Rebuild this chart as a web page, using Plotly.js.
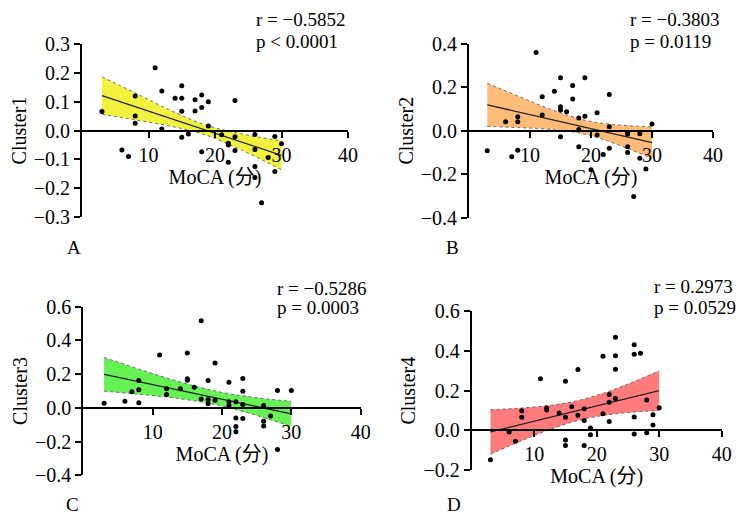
<!DOCTYPE html>
<html>
<head>
<meta charset="utf-8">
<script src="https://cdn.plot.ly/plotly-3.0.1.min.js"></script>
<style>html,body{margin:0;padding:0;background:#fff}#chart{width:741px;height:516px}</style>
</head>
<body>
<div id="chart"></div>
<script>
// ---------- Data ----------
const xTicks = [10, 20, 30, 40];

// Panel A : Cluster1
const aX = [3,6,7,8,8,8,11,12,12,14,15,15,15,15,16,17,17,18,18,18,19,19,21,22,22,22,23,23,23,26,26,26,26,27,28,29,29,30];
const aY = [0.066,-0.068,-0.09,0.12,0.05,0.025,0.218,0.137,0.005,0.112,0.155,0.112,0.067,-0.023,-0.012,0.107,0.068,0.123,0.08,-0.074,0.10,0.016,-0.015,-0.044,-0.05,-0.11,0.104,-0.022,-0.069,-0.014,-0.066,-0.125,-0.163,-0.251,-0.094,-0.021,-0.142,-0.046];
const aFitX = [3, 8, 13, 18.5, 24, 30];
const aFitY = [0.121, 0.0834, 0.0449, 0.0025, -0.0399, -0.086];
const aUp   = [0.186, 0.130, 0.073, 0.0195, -0.0116, -0.036];
const aLo   = [0.056, 0.037, 0.0166, -0.0145, -0.068, -0.136];
const aYTicks = [-0.3, -0.2, -0.1, 0, 0.1, 0.2, 0.3];

// Panel B : Cluster2
const bX = [3,6,7,8,8,8,11,12,12,14,15,15,15,15,16,17,17,18,18,18,19,19,20,21,21,22,23,23,23,26,26,26,26,27,28,28,29,30];
const bY = [-0.092,0.041,-0.12,-0.09,0.064,0.041,0.359,0.156,0.072,0.181,0.244,0.11,0.095,-0.028,0.087,0.208,0.146,0.058,0.006,-0.074,0.244,0.067,-0.18,0.083,-0.02,-0.11,0.166,0.018,-0.081,-0.008,-0.015,-0.074,-0.1,-0.302,-0.014,-0.127,-0.176,0.031];
const bFitX = [3, 8, 13, 19, 24, 30];
const bFitY = [0.119, 0.087, 0.0547, 0.016, -0.0162, -0.055];
const bUp   = [0.218, 0.1598, 0.1025, 0.048, 0.0275, 0.0178];
const bLo   = [0.020, 0.0142, 0.0069, -0.016, -0.0599, -0.1278];
const bYTicks = [-0.4, -0.2, 0, 0.2, 0.4];

// Panel C : Cluster3
const cX = [3,6,7,8,8,8,11,12,12,14,15,15,15,16,17,17,18,18,18,19,19,21,21,21,22,22,22,22,23,23,23,23,26,26,26,27,28,28,30];
const cY = [0.028,0.039,0.095,0.162,0.108,0.03,0.314,0.114,0.079,0.114,0.325,0.172,0.164,0.122,0.517,0.053,0.162,0.049,0.024,0.266,0.045,0.152,0.036,0.014,0.036,-0.06,-0.11,-0.142,0.174,0.099,0.02,-0.063,0.014,-0.079,-0.108,-0.049,0.103,-0.247,0.103];
const cFitX = [3, 8, 13, 19, 24, 30];
const cFitY = [0.199, 0.1555, 0.112, 0.0598, 0.0163, -0.0359];
const cUp   = [0.299, 0.2301, 0.1647, 0.0998, 0.0655, 0.0387];
const cLo   = [0.099, 0.0809, 0.0593, 0.0198, -0.0329, -0.1105];
const cYTicks = [-0.4, -0.2, 0, 0.2, 0.4, 0.6];

// Panel D : Cluster4
const dX = [3,6,7,8,8,11,12,12,14,15,15,15,15,16,17,17,18,18,18,19,19,21,21,22,22,22,23,23,23,23,26,26,26,26,27,28,28,29,29,30];
const dY = [-0.148,-0.008,-0.055,0.099,0.066,0.26,0.113,0.103,0.087,0.247,0.066,-0.049,-0.076,0.119,0.306,0.076,0.109,0.05,-0.076,0.012,-0.022,0.373,0.084,0.18,0.141,0.044,0.469,0.376,0.308,0.161,0.432,0.383,0.067,-0.018,0.388,0.153,-0.012,0.079,0.027,0.114];
const dFitX = [3, 8, 13, 17.5, 23, 30];
const dFitY = [-0.0084, 0.0302, 0.0688, 0.1035, 0.146, 0.20];
const dUp   = [0.1036, 0.1127, 0.1277, 0.1535, 0.2088, 0.2998];
const dLo   = [-0.1204, -0.0523, 0.0099, 0.0535, 0.0832, 0.1002];
const dYTicks = [-0.2, 0, 0.2, 0.4, 0.6];

const stats = [
  ["r = \u22120.5852", "p < 0.0001"],
  ["r = \u22120.3803", "p = 0.0119"],
  ["r = \u22120.5286", "p = 0.0003"],
  ["r = 0.2973", "p = 0.0529"]
];
const panelLetters = ["A", "B", "C", "D"];
const yTitles = ["Cluster1", "Cluster2", "Cluster3", "Cluster4"];
const xTitle = "MoCA (\u5206)";

// ---------- Build ----------
const FONT = "Liberation Serif, Times New Roman, Noto Sans CJK SC, serif";
const fills = ["rgb(242,242,62)", "rgb(255,188,120)", "rgb(102,242,84)", "rgb(255,122,122)"];

const panels = [
  {x:aX, y:aY, fx:aFitX, fy:aFitY, up:aUp, lo:aLo, yt:aYTicks, yr:[-0.3,0.3]},
  {x:bX, y:bY, fx:bFitX, fy:bFitY, up:bUp, lo:bLo, yt:bYTicks, yr:[-0.4,0.4]},
  {x:cX, y:cY, fx:cFitX, fy:cFitY, up:cUp, lo:cLo, yt:cYTicks, yr:[-0.4,0.6]},
  {x:dX, y:dY, fx:dFitX, fy:dFitY, up:dUp, lo:dLo, yt:dYTicks, yr:[-0.2,0.6]}
];

// layout geometry (pixels -> paper fractions)
const W = 741, H = 516;
const geom = [
  {x0:82,   x1:348,   yTop:44,    yBot:217},
  {x0:469,  x1:713,   yTop:43.7,  yBot:217.7},
  {x0:83.3, x1:360.7, yTop:306.7, yBot:475.3},
  {x0:471.7,x1:721.7, yTop:311.3, yBot:470}
];

const traces = [];
const layout = {
  width: W, height: H,
  margin: {l:0, r:0, t:0, b:0},
  paper_bgcolor: "#fff", plot_bgcolor: "rgba(0,0,0,0)",
  showlegend: false,
  font: {family: FONT, color: "#000", size: 20},
  annotations: []
};

panels.forEach((p, i) => {
  const n = i === 0 ? "" : String(i + 1);
  const xa = "x" + n, ya = "y" + n;
  const g = geom[i];
  const yd = [1 - g.yBot / H, 1 - g.yTop / H];
  const zeroFrac = (0 - p.yr[0]) / (p.yr[1] - p.yr[0]);
  const zeroPos = yd[0] + zeroFrac * (yd[1] - yd[0]);

  traces.push({x:p.fx, y:p.lo, xaxis:xa, yaxis:ya, mode:"lines", hoverinfo:"skip",
    line:{color:"#6a6a6a", width:1, dash:"dot", shape:"spline"}});
  traces.push({x:p.fx, y:p.up, xaxis:xa, yaxis:ya, mode:"lines", hoverinfo:"skip",
    fill:"tonexty", fillcolor:fills[i],
    line:{color:"#6a6a6a", width:1, dash:"dot", shape:"spline"}});
  traces.push({x:[p.fx[0], p.fx[p.fx.length-1]], y:[p.fy[0], p.fy[p.fy.length-1]], xaxis:xa, yaxis:ya,
    mode:"lines", line:{color:"#222", width:1.3}});
  traces.push({x:p.x, y:p.y, xaxis:xa, yaxis:ya, mode:"markers",
    marker:{color:"#000", size:5}, cliponaxis:false});

  layout["xaxis" + n] = {
    domain:[g.x0 / W, g.x1 / W], range:[0, 40], anchor:"free", position:zeroPos,
    tickmode:"array", tickvals:xTicks, ticktext:xTicks.map(String),
    ticks:"outside", ticklen:6, tickwidth:2, tickcolor:"#000",
    showline:true, linewidth:2, linecolor:"#000", showgrid:false, zeroline:false,
    tickfont:{family:FONT, size:20, color:"#000"},
    title:{text:xTitle, standoff:2, font:{family:FONT, size:20, color:"#000"}}
  };
  layout["yaxis" + n] = {
    domain:yd, range:p.yr, anchor:xa,
    tickmode:"array", tickvals:p.yt, ticktext:p.yt.map(v => (v < 0 ? "\u2212" : "") + Math.abs(v).toFixed(1)),
    ticks:"outside", ticklen:6, tickwidth:2, tickcolor:"#000",
    showline:true, linewidth:2, linecolor:"#000", showgrid:false, zeroline:false,
    tickfont:{family:FONT, size:20, color:"#000"},
    title:{text:yTitles[i], standoff:2, font:{family:FONT, size:20, color:"#000"}}
  };
});

// stats text and panel letters
const statPos = [
  {x:255, y1:20, y2:41},
  {x:629, y1:20, y2:41},
  {x:276, y1:288, y2:307},
  {x:653, y1:286, y2:307}
];
const letterPos = [{x:73.5, y:248}, {x:452, y:248}, {x:72.5, y:504}, {x:454, y:504}];
stats.forEach((s, i) => {
  const sp = statPos[i];
  [s[0], s[1]].forEach((t, k) => {
    layout.annotations.push({xref:"paper", yref:"paper", x:sp.x / W, y:1 - (k ? sp.y2 : sp.y1) / H,
      xanchor:"left", yanchor:"middle", text:t, showarrow:false, borderpad:0,
      font:{family:FONT, size:19, color:"#000"}});
  });
  const lp = letterPos[i];
  layout.annotations.push({xref:"paper", yref:"paper", x:lp.x / W, y:1 - lp.y / H,
    xanchor:"center", yanchor:"middle", text:panelLetters[i], showarrow:false, borderpad:0,
    font:{family:FONT, size:19, color:"#000"}});
});

Plotly.newPlot("chart", traces, layout, {staticPlot:true, displayModeBar:false});
</script>
</body>
</html>
